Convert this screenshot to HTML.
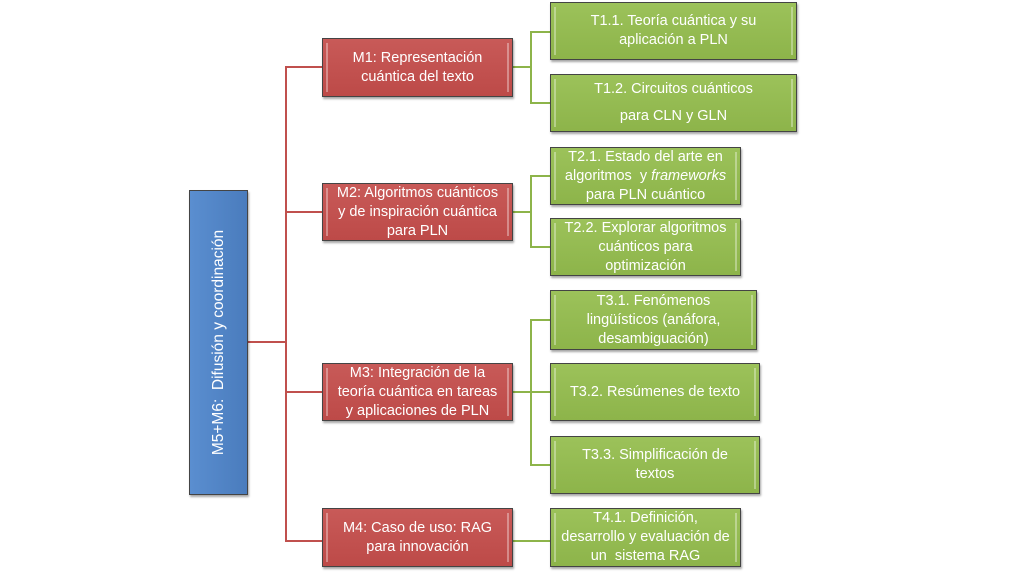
<!DOCTYPE html>
<html><head><meta charset="utf-8"><style>
body{margin:0;width:1024px;height:583px;background:#fff;position:relative;overflow:hidden;font-family:"Liberation Sans",sans-serif}
.b{position:absolute;box-sizing:border-box;display:flex;align-items:center;justify-content:center;text-align:center;color:#fff;font-size:14.5px;line-height:19px;border:1px solid #444;box-shadow:1px 2px 2px rgba(0,0,0,.35);white-space:nowrap}
.b>div{display:block}
.r{background:linear-gradient(#c85a58,#bd4a48);}
.g{background:linear-gradient(#9cc25a,#8db44a);}
.r::before,.r::after,.g::before,.g::after{content:"";position:absolute;top:4px;bottom:4px;width:2px;background:rgba(255,255,255,.35)}
.r::before,.g::before{left:3px}.r::after,.g::after{right:3px}
.blue{background:linear-gradient(90deg,#5a8ed0,#4a7cbd);}
.l{position:absolute;}
.lr{background:#c0504d}.lg{background:#8db44a}
</style></head><body>
<div class="l lr" style="left:248px;top:341px;width:39px;height:2px"></div>
<div class="l lr" style="left:285px;top:66px;width:2px;height:476px"></div>
<div class="l lr" style="left:285px;top:66px;width:37px;height:2px"></div>
<div class="l lr" style="left:285px;top:211px;width:37px;height:2px"></div>
<div class="l lr" style="left:285px;top:391px;width:37px;height:2px"></div>
<div class="l lr" style="left:285px;top:540px;width:37px;height:2px"></div>
<div class="l lg" style="left:513px;top:66px;width:18px;height:2px"></div>
<div class="l lg" style="left:530px;top:31px;width:2px;height:73px"></div>
<div class="l lg" style="left:530px;top:31px;width:20px;height:2px"></div>
<div class="l lg" style="left:530px;top:102px;width:20px;height:2px"></div>
<div class="l lg" style="left:513px;top:211px;width:18px;height:2px"></div>
<div class="l lg" style="left:530px;top:175px;width:2px;height:73px"></div>
<div class="l lg" style="left:530px;top:175px;width:20px;height:2px"></div>
<div class="l lg" style="left:530px;top:246px;width:20px;height:2px"></div>
<div class="l lg" style="left:513px;top:391px;width:37px;height:2px"></div>
<div class="l lg" style="left:530px;top:319px;width:2px;height:147px"></div>
<div class="l lg" style="left:530px;top:319px;width:20px;height:2px"></div>
<div class="l lg" style="left:530px;top:464px;width:20px;height:2px"></div>
<div class="l lg" style="left:513px;top:540px;width:37px;height:2px"></div>

<div class="b blue" style="left:189px;top:190px;width:59px;height:305px"><div style="transform:rotate(-90deg);white-space:nowrap;font-size:15.5px">M5+M6:&nbsp; Difusión y coordinación</div></div>

<div class="b r" style="left:322px;top:38px;width:191px;height:59px"><div>M1: Representación<br>cuántica del texto</div></div>
<div class="b r" style="left:322px;top:183px;width:191px;height:58px"><div>M2: Algoritmos cuánticos<br>y de inspiración cuántica<br>para PLN</div></div>
<div class="b r" style="left:322px;top:363px;width:191px;height:58px"><div>M3: Integración de la<br>teoría cuántica en tareas<br>y aplicaciones de PLN</div></div>
<div class="b r" style="left:322px;top:508px;width:191px;height:59px"><div>M4: Caso de uso: RAG<br>para innovación</div></div>

<div class="b g" style="left:550px;top:2px;width:247px;height:58px"><div>T1.1. Teoría cuántica y su<br>aplicación a PLN</div></div>
<div class="b g" style="left:550px;top:74px;width:247px;height:58px;line-height:27px"><div>T1.2. Circuitos cuánticos<br>para CLN y GLN</div></div>
<div class="b g" style="left:550px;top:147px;width:191px;height:58px"><div>T2.1. Estado del arte en<br>algoritmos&nbsp; y <i>frameworks</i><br>para PLN cuántico</div></div>
<div class="b g" style="left:550px;top:218px;width:191px;height:58px"><div>T2.2. Explorar algoritmos<br>cuánticos para<br>optimización</div></div>
<div class="b g" style="left:550px;top:290px;width:207px;height:60px"><div>T3.1. Fenómenos<br>lingüísticos (anáfora,<br>desambiguación)</div></div>
<div class="b g" style="left:550px;top:363px;width:210px;height:58px"><div>T3.2. Resúmenes de texto</div></div>
<div class="b g" style="left:550px;top:436px;width:210px;height:58px"><div>T3.3. Simplificación de<br>textos</div></div>
<div class="b g" style="left:550px;top:508px;width:191px;height:59px"><div>T4.1. Definición,<br>desarrollo y evaluación de<br>un&nbsp; sistema RAG</div></div>
</body></html>
